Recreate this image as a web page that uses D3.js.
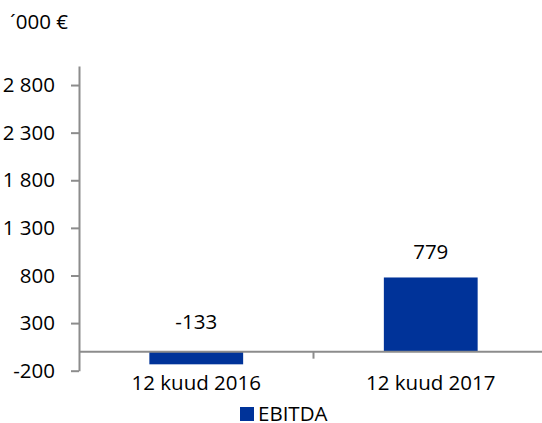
<!DOCTYPE html>
<html>
<head>
<meta charset="utf-8">
<script src="https://cdn.jsdelivr.net/npm/d3@7"></script>
<style>
  html, body { margin: 0; padding: 0; background: #fff; }
  svg text { font-family: "Open Sans", sans-serif; fill: #000; }
</style>
</head>
<body>
<div id="chart"></div>
<script>
// data
var categories = ["12 kuud 2016", "12 kuud 2017"];
var ebitda = [-133, 779];
var yTicks = [-200, 300, 800, 1300, 1800, 2300, 2800];
var yMin = -200, yMax = 3000;
var seriesName = "EBITDA";
var unitLabel = "\u00B4000 \u20AC";

var w = 542, h = 423
    , plotLeft = 79, plotRight = 548, plotTop = 66, plotBottom = 370.7
    , fontSize = 20.5
    , barColor = "#003399", axisColor = "#8c8c8c";

var locale = d3.formatLocale({ decimal: ",", thousands: " ", grouping: [3], currency: ["", " €"], minus: "-" });
var fmt = locale.format(",");

var svg = d3.select("#chart").append("svg")
    .attr("width", w)
    .attr("height", h);

var xScale = d3.scaleBand().domain(categories).range([plotLeft, plotRight]);
var yScale = d3.scaleLinear().domain([yMin, yMax]).range([plotBottom, plotTop]);
var bw = xScale.bandwidth();

// unit label
svg.append("text")
    .attr("x", 10)
    .attr("y", 29)
    .style("font-size", fontSize + "px")
    .text(unitLabel);

// bars
svg.append("g").selectAll("rect")
    .data(ebitda)
    .enter()
    .append("rect")
    .attr("x", function(d, i) { return xScale(categories[i]) + bw * 0.3; })
    .attr("width", bw * 0.4)
    .attr("y", function(d) { return yScale(Math.max(0, d)); })
    .attr("height", function(d) { return Math.abs(yScale(d) - yScale(0)); })
    .attr("fill", barColor);

// y axis
var yAxis = d3.axisLeft(yScale)
    .tickValues(yTicks)
    .tickFormat(fmt)
    .tickSize(8)
    .tickPadding(16)
    .tickSizeOuter(0);
var yG = svg.append("g")
    .attr("transform", "translate(" + plotLeft + ",0)")
    .call(yAxis);
yG.select(".domain").attr("stroke", axisColor).attr("stroke-width", 2);
yG.selectAll(".tick line").attr("stroke", axisColor).attr("stroke-width", 2);
yG.selectAll(".tick text")
    .style("font-family", "Open Sans, sans-serif")
    .style("font-size", fontSize + "px")
    .attr("fill", "#000");

// x axis line at zero, ticks between categories
var y0 = yScale(0);
svg.append("line")
    .attr("x1", plotLeft).attr("x2", plotRight)
    .attr("y1", y0).attr("y2", y0)
    .attr("stroke", axisColor).attr("stroke-width", 2);
svg.append("g").selectAll("line")
    .data(categories.slice(1))
    .enter()
    .append("line")
    .attr("x1", function(d) { return xScale(d); })
    .attr("x2", function(d) { return xScale(d); })
    .attr("y1", y0).attr("y2", y0 + 7)
    .attr("stroke", axisColor).attr("stroke-width", 2);

// category labels
svg.append("g").selectAll("text")
    .data(categories)
    .enter()
    .append("text")
    .attr("x", function(d) { return xScale(d) + bw / 2; })
    .attr("y", 390)
    .attr("text-anchor", "middle")
    .style("font-size", fontSize + "px")
    .text(function(d) { return d; });

// value labels
svg.append("g").selectAll("text")
    .data(ebitda)
    .enter()
    .append("text")
    .attr("x", function(d, i) { return xScale(categories[i]) + bw / 2; })
    .attr("y", function(d) { return yScale(Math.max(0, d)) - (d < 0 ? 22.5 : 18.5); })
    .attr("text-anchor", "middle")
    .style("font-size", fontSize + "px")
    .text(function(d) { return fmt(d); });

// legend
var lg = svg.append("g").attr("transform", "translate(240,407)");
lg.append("rect")
    .attr("width", 14).attr("height", 14)
    .attr("fill", barColor);
lg.append("text")
    .attr("x", 18)
    .attr("y", 13.5)
    .style("font-size", fontSize + "px")
    .text(seriesName);
</script>
</body>
</html>
